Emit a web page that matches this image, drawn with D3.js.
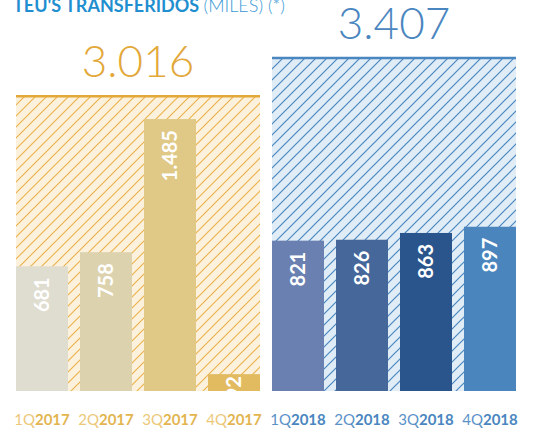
<!DOCTYPE html>
<html>
<head>
<meta charset="utf-8">
<script src="https://cdn.jsdelivr.net/npm/d3@7"></script>
<style>
  body { margin: 0; background: #fff; }
  svg { display: block; font-family: Lato, "Open Sans", sans-serif; }
</style>
</head>
<body>
<div id="chart"></div>
<script>
  var width = 533,
      height = 433,
      baseline = 391;

  // data
  var quarters = ["1Q", "2Q", "3Q", "4Q"];
  var years = ["2017", "2018"];
  var values2017 = [681, 758, 1485, 92];
  var values2018 = [821, 826, 863, 897];
  var totals = [3016, 3407];
  var barColors2017 = ["#dfdcd0", "#dcd2ae", "#e0c886", "#e2bb60"];
  var barColors2018 = ["#6a80b0", "#46679a", "#2a548c", "#4a86bd"];

  // year theme colours
  var theme = {
    "2017": { main: "#e3a83a", bg: "#fcf1dd", hatch: "#ebb44e", light: "#ecc87a", bold: "#e3b550" },
    "2018": { main: "#4a86c0", bg: "#e0edf6", hatch: "#4a86c0", light: "#5a92c8", bold: "#4a86c0" }
  };

  var rows = [];
  years.forEach(function(y, yi) {
    var vals = yi == 0 ? values2017 : values2018,
        cols = yi == 0 ? barColors2017 : barColors2018;
    quarters.forEach(function(q, qi) {
      rows.push({ key: q + y, q: q, year: y, v: vals[qi], color: cols[qi] });
    });
  });

  var x = d3.scaleBand()
    .domain(rows.map(d => d.key))
    .range([16, 516])
    .paddingInner(0.1875)
    .paddingOuter(0);

  // bars and totals use separate scales (as in the original)
  var yBar = d3.scaleLinear().domain([0, 1600]).range([baseline, 98]);
  var yTotal = d3.scaleLinear().domain([0, 3500]).range([baseline, 49]);

  var svg = d3.select("#chart").append("svg")
    .attr("width", width)
    .attr("height", height);

  var defs = svg.append("defs");
  years.forEach(function(y) {
    var p = defs.append("pattern")
      .attr("id", "hatch" + y)
      .attr("patternUnits", "userSpaceOnUse")
      .attr("width", 11)
      .attr("height", 11);
    p.append("rect").attr("width", 11).attr("height", 11).attr("fill", theme[y].bg);
    p.append("path")
      .attr("d", "M-1,1 l2,-2 M0,11 l11,-11 M10,12 l2,-2")
      .attr("stroke", theme[y].hatch)
      .attr("stroke-width", 1.2);
  });
  defs.append("clipPath").attr("id", "plotclip")
    .append("rect").attr("x", 0).attr("y", 0).attr("width", width).attr("height", baseline);

  var groups = years.map(function(y, i) {
    var keys = rows.filter(d => d.year == y).map(d => d.key);
    return {
      year: y,
      total: totals[i],
      x0: x(keys[0]),
      x1: x(keys[keys.length - 1]) + x.bandwidth()
    };
  });

  var plot = svg.append("g").attr("clip-path", "url(#plotclip)");

  // hatched total backgrounds
  plot.selectAll("rect.total")
    .data(groups)
    .enter()
    .append("rect")
    .attr("class", "total")
    .attr("x", d => d.x0)
    .attr("width", d => d.x1 - d.x0)
    .attr("y", d => yTotal(d.total))
    .attr("height", d => baseline - yTotal(d.total))
    .attr("fill", d => "url(#hatch" + d.year + ")");

  plot.selectAll("line.top")
    .data(groups)
    .enter()
    .append("line")
    .attr("x1", d => d.x0)
    .attr("x2", d => d.x1)
    .attr("y1", d => yTotal(d.total))
    .attr("y2", d => yTotal(d.total))
    .attr("stroke", d => theme[d.year].main)
    .attr("stroke-width", 2.5);

  svg.selectAll("text.total")
    .data(groups)
    .enter()
    .append("text")
    .attr("x", d => (d.x0 + d.x1) / 2)
    .attr("y", d => yTotal(d.total) - 19.5)
    .attr("text-anchor", "middle")
    .style("font-size", "44px")
    .style("font-weight", 300)
    .attr("fill", d => theme[d.year].main)
    .text(d => d3.format(",")(d.total).replace(/,/g, "."));

  // quarter bars
  plot.selectAll("rect.bar")
    .data(rows)
    .enter()
    .append("rect")
    .attr("class", "bar")
    .attr("x", d => x(d.key))
    .attr("width", x.bandwidth())
    .attr("y", d => yBar(d.v))
    .attr("height", d => baseline - yBar(d.v))
    .attr("fill", d => d.color);

  plot.selectAll("text.val")
    .data(rows)
    .enter()
    .append("text")
    .attr("class", "val")
    .attr("transform", function(d) {
      var cx = x(d.key) + x.bandwidth() / 2,
          ty = yBar(d.v) + (d.v < 200 ? 2 : 11);
      return "translate(" + cx + "," + ty + ") rotate(-90)";
    })
    .attr("dy", "0.36em")
    .attr("text-anchor", "end")
    .style("font-size", "20px")
    .style("font-weight", 700)
    .attr("fill", "#fff")
    .text(d => d3.format(",")(d.v).replace(/,/g, "."));

  // quarter labels
  var lab = svg.selectAll("text.q")
    .data(rows)
    .enter()
    .append("text")
    .attr("x", d => x(d.key) + x.bandwidth() / 2)
    .attr("y", 425)
    .attr("text-anchor", "middle")
    .style("font-size", "15px");
  lab.append("tspan")
    .attr("fill", d => theme[d.year].light)
    .style("font-weight", 400)
    .text(d => d.q);
  lab.append("tspan")
    .attr("fill", d => theme[d.year].bold)
    .style("font-weight", 700)
    .text(d => d.year);

  // title (cut by the top edge in the original)
  var title = svg.append("text")
    .attr("x", 13)
    .attr("y", 12)
    .style("font-size", "18px");
  title.append("tspan")
    .style("font-weight", 700)
    .attr("fill", "#1f8fd0")
    .text("TEU'S TRANSFERIDOS ");
  title.append("tspan")
    .style("font-weight", 300)
    .attr("fill", "#3a9ad6")
    .text("(MILES) (*)");
</script>
</body>
</html>
